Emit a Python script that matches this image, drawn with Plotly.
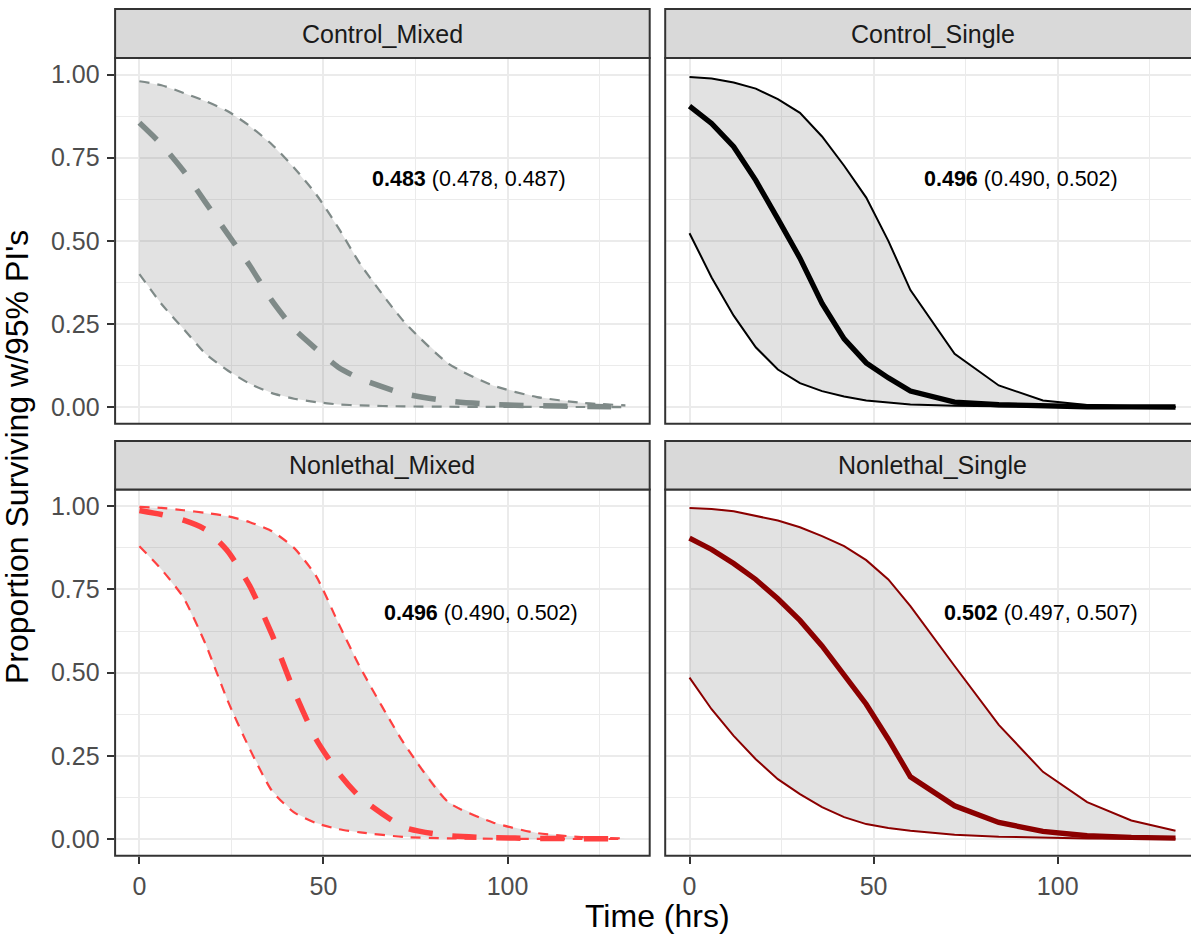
import plotly.graph_objects as go

# ---------------- data ----------------
time_hrs = [0, 6, 12, 18, 24, 30, 36, 42, 48, 54, 60, 72, 84, 96, 108, 120, 132]

panel_names = ["Control_Mixed", "Control_Single", "Nonlethal_Mixed", "Nonlethal_Single"]

cm_upper = [0.98, 0.968, 0.945, 0.92, 0.89, 0.845, 0.79, 0.72, 0.64, 0.54, 0.43, 0.255, 0.13, 0.065, 0.03, 0.013, 0.005]
cm_mean = [0.855, 0.79, 0.71, 0.615, 0.52, 0.425, 0.32, 0.235, 0.175, 0.12, 0.085, 0.04, 0.018, 0.008, 0.004, 0.002, 0.001]
cm_lower = [0.40, 0.31, 0.235, 0.16, 0.11, 0.07, 0.042, 0.025, 0.015, 0.008, 0.005, 0.002, 0.001, 0.0005, 0.0003, 0.0002, 0.0001]

cs_upper = [0.993, 0.988, 0.976, 0.958, 0.926, 0.885, 0.814, 0.726, 0.630, 0.50, 0.352, 0.16, 0.065, 0.02, 0.006, 0.002, 0.001]
cs_mean = [0.905, 0.853, 0.783, 0.682, 0.566, 0.448, 0.312, 0.205, 0.133, 0.088, 0.048, 0.015, 0.007, 0.003, 0.001, 0.0005, 0.0003]
cs_lower = [0.523, 0.39, 0.275, 0.18, 0.113, 0.072, 0.048, 0.032, 0.02, 0.013, 0.008, 0.004, 0.002, 0.001, 0.0005, 0.0003, 0.0002]

nm_upper = [0.998, 0.995, 0.988, 0.98, 0.97, 0.952, 0.925, 0.875, 0.79, 0.65, 0.515, 0.285, 0.11, 0.05, 0.018, 0.006, 0.002]
nm_mean = [0.987, 0.975, 0.958, 0.93, 0.865, 0.76, 0.615, 0.445, 0.30, 0.20, 0.125, 0.035, 0.01, 0.004, 0.002, 0.001, 0.0005]
nm_lower = [0.88, 0.81, 0.725, 0.585, 0.415, 0.27, 0.145, 0.08, 0.048, 0.03, 0.02, 0.006, 0.002, 0.001, 0.0005, 0.0002, 0.0001]

ns_upper = [0.995, 0.992, 0.985, 0.972, 0.957, 0.937, 0.91, 0.88, 0.838, 0.78, 0.70, 0.52, 0.343, 0.202, 0.111, 0.056, 0.025]
ns_mean = [0.904, 0.87, 0.828, 0.78, 0.722, 0.657, 0.58, 0.495, 0.405, 0.30, 0.187, 0.10, 0.05, 0.023, 0.01, 0.005, 0.003]
ns_lower = [0.485, 0.39, 0.31, 0.24, 0.18, 0.135, 0.096, 0.066, 0.045, 0.033, 0.025, 0.013, 0.007, 0.004, 0.002, 0.001, 0.0008]

est_values = [0.483, 0.496, 0.496, 0.502]
est_lower = [0.478, 0.490, 0.490, 0.497]
est_upper = [0.487, 0.502, 0.502, 0.507]

x_ticks = [0, 50, 100]
x_minor = [25, 75, 125]
y_ticks = [0, 0.25, 0.5, 0.75, 1.0]
y_tick_text = ["0.00", "0.25", "0.50", "0.75", "1.00"]
y_minor = [0.125, 0.375, 0.625, 0.875]

# ---------------- styling ----------------
W, H = 1191, 935
FONT = "Liberation Sans, Arial, Helvetica, sans-serif"
uppers = [cm_upper, cs_upper, nm_upper, ns_upper]
means = [cm_mean, cs_mean, nm_mean, ns_mean]
lowers = [cm_lower, cs_lower, nm_lower, ns_lower]
colors = ["#7F8A88", "#000000", "#FF4040", "#8B0000"]
dashed = [True, False, True, False]

# pixel geometry of panels
col_px = [(115.1, 649.7), (665.2, 1199.8)]
row_px = [(58.0, 423.7), (489.6, 855.7)]
strip_px = [(9.0, 58.0), (441.0, 489.6)]
px_per_x = (649.7 - 115.1) / 145.2
x_left = -6.6

def px2x(p):
    return p / W

def px2y(p):
    return 1 - p / H

fig = go.Figure()
shapes = []
annotations = []

ann_pos = [(89.4, 0.685), (90.0, 0.685), (92.9, 0.68), (95.4, 0.68)]

for i in range(4):
    r, c = divmod(i, 2)
    suffix = "" if i == 0 else str(i + 1)
    xa, ya = "x" + suffix, "y" + suffix
    col = colors[i]
    # ribbon
    fig.add_trace(go.Scatter(
        x=time_hrs + time_hrs[::-1], y=uppers[i] + lowers[i][::-1],
        fill="toself", fillcolor="rgba(128,128,128,0.23)", mode="lines",
        line=dict(width=0), hoverinfo="skip", showlegend=False,
        xaxis=xa, yaxis=ya))
    shape = "spline" if dashed[i] else "linear"
    for series, wdt, dash in [(lowers[i], 2.2, "10px,8px"),
                              (uppers[i], 2.2, "10px,8px"),
                              (means[i], 5.5, "24px,20px")]:
        fig.add_trace(go.Scatter(
            x=time_hrs, y=series, mode="lines",
            line=dict(color=col, width=wdt if dashed[i] else (wdt - 0.2),
                      dash=dash if dashed[i] else "solid",
                      shape=shape, smoothing=0.6),
            showlegend=False, xaxis=xa, yaxis=ya))

    x0p, x1p = col_px[c]
    y0p, y1p = row_px[r]
    dom_x1 = min(1.0, px2x(x1p))
    x_right = x_left + (dom_x1 * W - x0p) / px_per_x
    fig.layout["xaxis" + suffix] = dict(
        domain=[px2x(x0p), dom_x1], range=[x_left, x_right],
        anchor=ya, tickvals=x_ticks, showticklabels=(r == 1),
        ticks="outside" if r == 1 else "", ticklen=7.5, tickwidth=2, tickcolor="#333333",
        tickfont=dict(size=25, color="#4D4D4D", family=FONT),
        showgrid=True, gridcolor="#EBEBEB", gridwidth=2, zeroline=False,
        minor=dict(tickvals=x_minor, showgrid=True, gridcolor="#EBEBEB", gridwidth=1, ticks=""),
        showline=False, ticklabelstandoff=1, fixedrange=True)
    fig.layout["yaxis" + suffix] = dict(
        domain=[px2y(y1p), px2y(y0p)], range=[-0.05, 1.05],
        anchor=xa, tickvals=y_ticks, ticktext=y_tick_text, showticklabels=(c == 0),
        ticks="outside" if c == 0 else "", ticklen=7.5, tickwidth=2, tickcolor="#333333",
        tickfont=dict(size=25, color="#4D4D4D", family=FONT),
        showgrid=True, gridcolor="#EBEBEB", gridwidth=2, zeroline=False,
        minor=dict(tickvals=y_minor, showgrid=True, gridcolor="#EBEBEB", gridwidth=1, ticks=""),
        showline=False, ticklabelstandoff=2, fixedrange=True)

    # panel border
    shapes.append(dict(type="rect", xref="paper", yref="paper",
                       x0=px2x(x0p), x1=px2x(x1p), y0=px2y(y1p), y1=px2y(y0p),
                       line=dict(color="#333333", width=2), fillcolor="rgba(0,0,0,0)", layer="above"))
    # strip
    s0, s1 = strip_px[r]
    shapes.append(dict(type="rect", xref="paper", yref="paper",
                       x0=px2x(x0p), x1=px2x(x1p), y0=px2y(s1), y1=px2y(s0),
                       line=dict(color="#333333", width=2), fillcolor="#D9D9D9", layer="above"))
    annotations.append(dict(text=panel_names[i], xref="paper", yref="paper",
                            x=px2x((x0p + x1p) / 2), y=px2y((s0 + s1) / 2),
                            xanchor="center", yanchor="middle", showarrow=False,
                            font=dict(size=25, color="#1A1A1A", family=FONT)))
    # estimate text
    ax, ay = ann_pos[i]
    annotations.append(dict(
        text=f"<b>{est_values[i]:.3f}</b> ({est_lower[i]:.3f}, {est_upper[i]:.3f})",
        xref=xa, yref=ya, x=ax, y=ay, xanchor="center", yanchor="middle",
        showarrow=False, font=dict(size=21.5, color="#000000", family=FONT)))

annotations.append(dict(text="Time (hrs)", xref="paper", yref="paper",
                        x=px2x(657.5), y=px2y(916), xanchor="center", yanchor="middle",
                        showarrow=False, font=dict(size=32, color="#000000", family=FONT)))
annotations.append(dict(text="Proportion Surviving w/95% PI's", xref="paper", yref="paper",
                        x=px2x(17), y=px2y(457), xanchor="center", yanchor="middle",
                        textangle=-90, showarrow=False,
                        font=dict(size=32, color="#000000", family=FONT)))

fig.update_layout(width=W, height=H, margin=dict(l=0, r=0, t=0, b=0),
                  paper_bgcolor="white", plot_bgcolor="white",
                  shapes=shapes, annotations=annotations, showlegend=False,
                  font=dict(family=FONT))

fig.write_html("out.html", config={"displayModeBar": False},
               post_script="document.body.style.margin='0';document.body.style.padding='0';"
                           "document.documentElement.style.overflow='hidden';")
